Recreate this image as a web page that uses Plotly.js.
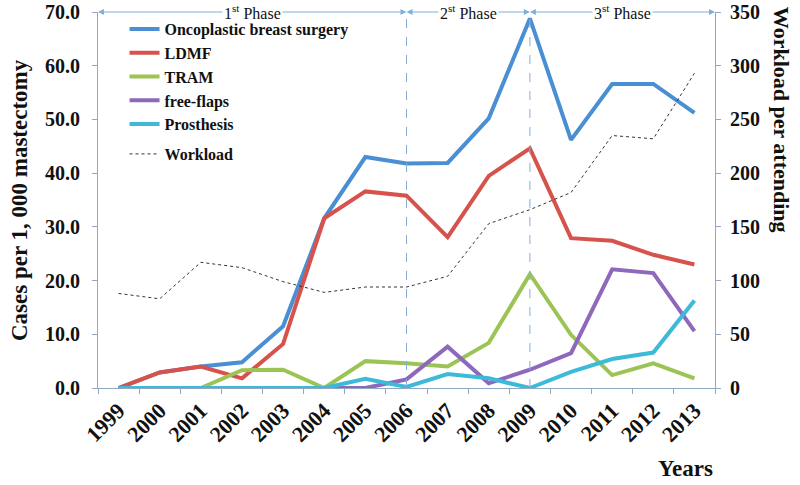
<!DOCTYPE html>
<html>
<head>
<meta charset="utf-8">
<script src="https://cdn.plot.ly/plotly-3.0.1.min.js"></script>
<style>html,body{margin:0;padding:0;background:#fff;}#chart{width:800px;height:485px;}</style>
</head>
<body>
<div id="chart"></div>
<script>
// ---- data ----
const years = ['1999','2000','2001','2002','2003','2004','2005','2006','2007','2008','2009','2010','2011','2012','2013'];
const oncoplastic = [0, 2.9, 4.0, 4.8, 11.5, 31.6, 43.0, 41.8, 41.9, 50.2, 68.8, 46.2, 56.6, 56.6, 51.2];
const ldmf        = [0, 2.9, 4.0, 1.8, 8.2, 31.6, 36.6, 35.8, 28.1, 39.5, 44.6, 27.9, 27.4, 24.8, 23.0];
const tram        = [0, 0, 0, 3.3, 3.4, 0, 5.0, 4.6, 4.0, 8.4, 21.2, 9.9, 2.4, 4.6, 1.8];
const freeFlaps   = [0, 0, 0, 0, 0, 0, 0, 1.6, 7.7, 0.9, 3.4, 6.5, 22.1, 21.4, 10.6];
const prosthesis  = [0, 0, 0, 0, 0, 0, 1.7, 0.2, 2.6, 1.8, 0, 3.0, 5.4, 6.6, 16.3];
const workload    = [88, 83, 117, 112, 99, 89, 94, 94, 104, 153, 166, 182, 235, 232, 293];
const seriesNames = ['Oncoplastic breast surgery','LDMF','TRAM','free-flaps','Prosthesis'];
const phaseLabels = ['1<sup>st</sup> Phase','2<sup>st</sup> Phase','3<sup>st</sup> Phase'];

// ---- styling ----
const colors = ['#4a8fd3','#d6524b','#9cc455','#8d68bd','#3dbad8'];
const serif = 'Liberation Serif';
const axisCol = '#8fa8c4';
const phaseCol = '#7fb0dc';

const seriesVals = [oncoplastic, ldmf, tram, freeFlaps, prosthesis];
const traces = seriesVals.map((v,i)=>({
  x: years, y: v, type:'scatter', mode:'lines', name: seriesNames[i],
  line:{color:colors[i], width:4}, legendgroup:'a', xaxis:'x', yaxis:'y'
}));
traces.push({
  x: years, y: workload, type:'scatter', mode:'lines', name:'Workload',
  line:{color:'#333', width:1, dash:'dot'}, legendgroup:'b', xaxis:'x', yaxis:'y2'
});

// phase boundaries as category indices
const bounds = [-0.5, 7, 10, 14.5];
const annotations = [];
for (let i=0;i<3;i++){
  const a=bounds[i], b=bounds[i+1], m=(a+b)/2;
  [a,b].forEach(h=>annotations.push({
    x:h, y:70, xref:'x', yref:'y', ax:m, ay:70, axref:'x', ayref:'y',
    text:'', showarrow:true, arrowhead:2, arrowsize:1.2, arrowwidth:1, arrowcolor:phaseCol
  }));
  annotations.push({x:m, y:70, xref:'x', yref:'y', text:phaseLabels[i], showarrow:false,
    bgcolor:'#ffffff', borderpad:1, font:{family:serif, size:16, color:'#111'}});
}
annotations.push({x:-0.128, y:0.5, xref:'paper', yref:'paper', text:'<b>Cases per 1, 000 mastectomy</b>',
  textangle:-90, showarrow:false, xanchor:'center', yanchor:'middle', font:{family:serif, size:23, color:'#111'}});
annotations.push({x:1.108, y:1.02, xref:'paper', yref:'paper', text:'<b>Workload per attending</b>',
  textangle:90, showarrow:false, xanchor:'center', yanchor:'top', font:{family:serif, size:22, color:'#111'}});
annotations.push({x:1.0, y:-0.215, xref:'paper', yref:'paper', text:'<b>Years</b>', showarrow:false,
  xanchor:'right', yanchor:'middle', font:{family:serif, size:23, color:'#111'}});

const shapes = [7,10].map(v=>({type:'line', xref:'x', yref:'y', x0:v, x1:v, y0:0, y1:70,
  line:{color:phaseCol, width:1, dash:'dash'}}));

const layout = {
  width:800, height:485,
  margin:{l:98, r:85, t:12, b:97},
  paper_bgcolor:'#fff', plot_bgcolor:'#fff',
  showlegend:true,
  legend:{x:0.043, y:1.0, xanchor:'left', yanchor:'top', bgcolor:'rgba(0,0,0,0)',
    font:{family:serif, size:16, color:'#111', weight:'bold'}, tracegroupgap:6, traceorder:'grouped', itemwidth:30},
  xaxis:{type:'category', tickson:'boundaries', ticks:'outside', ticklen:5, tickcolor:axisCol,
    showline:true, linecolor:axisCol, linewidth:1, showgrid:false, zeroline:false,
    tickangle:-45, tickfont:{family:serif, size:22, color:'#111', weight:'bold'}, range:[-0.5,14.5]},
  yaxis:{range:[0,70], dtick:10, tickformat:'.1f', ticks:'outside', ticklen:5, tickcolor:axisCol,
    showline:true, linecolor:axisCol, showgrid:false, zeroline:false, ticklabelstandoff:8,
    tickfont:{family:serif, size:20, color:'#111', weight:'bold'}},
  yaxis2:{range:[0,350], dtick:50, overlaying:'y', side:'right', ticks:'outside', ticklen:5, tickcolor:axisCol,
    showline:true, linecolor:axisCol, showgrid:false, zeroline:false, ticklabelstandoff:5,
    tickfont:{family:serif, size:20, color:'#111', weight:'bold'}},
  annotations: annotations,
  shapes: shapes
};
Plotly.newPlot('chart', traces, layout, {displayModeBar:false, staticPlot:true});
</script>
</body>
</html>
